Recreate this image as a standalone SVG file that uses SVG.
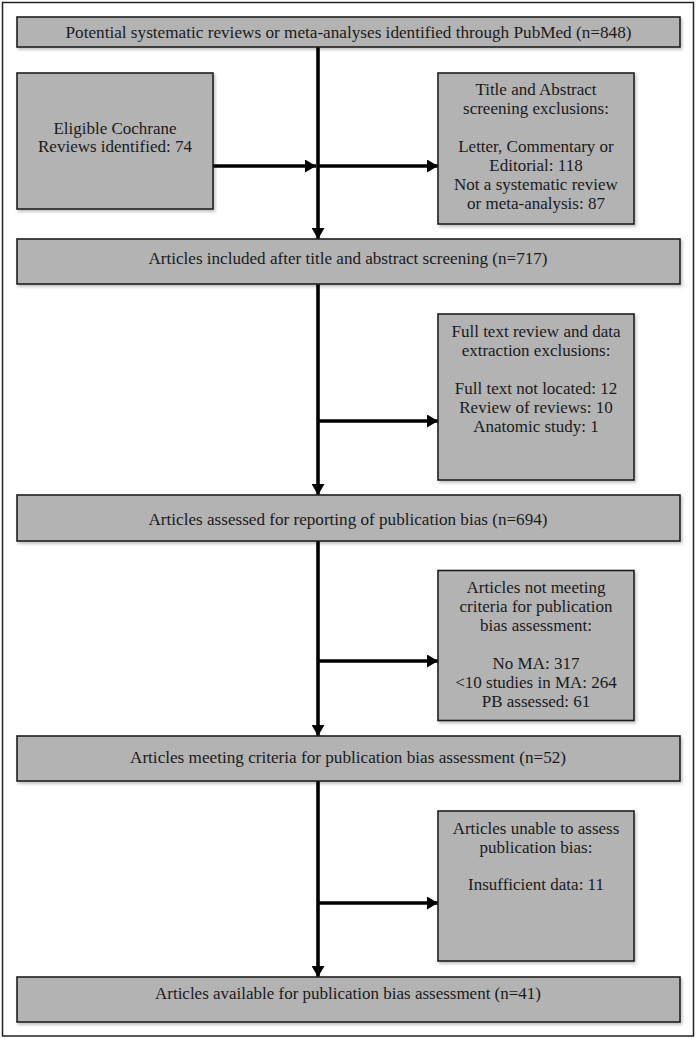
<svg xmlns="http://www.w3.org/2000/svg" width="697" height="1039" viewBox="0 0 697 1039">
<style>
.box{fill:#b3b3b3;stroke:#1e1e1e;stroke-width:1.6;filter:url(#sh)}
.t{font-family:"Liberation Serif","DejaVu Serif",serif;font-size:17px;fill:#1a1a1a;text-anchor:middle}
.w{font-size:16px}
.c{stroke:#000;stroke-width:3.6;fill:none;marker-end:url(#ah)}
</style>
<defs>
<filter id="sh" x="-5%" y="-5%" width="110%" height="120%">
<feDropShadow dx="1.5" dy="2" stdDeviation="1.5" flood-color="#000" flood-opacity="0.25"/>
</filter>
<marker id="ah" markerUnits="userSpaceOnUse" markerWidth="11" markerHeight="13" refX="11" refY="6.5" orient="auto">
<path d="M0,0 L11,6.5 L0,13 z" fill="#000"/>
</marker>
</defs>
<rect x="0" y="0" width="697" height="1039" fill="#fff"/>
<rect x="2.5" y="2.5" width="691" height="1033.5" fill="#fff" stroke="#222" stroke-width="1.5"/>

<g id="connectors">
<line class="c" x1="318" y1="47" x2="318" y2="239"/>
<line class="c" x1="213" y1="166" x2="316" y2="166"/>
<line class="c" x1="318" y1="166" x2="438" y2="166"/>
<line class="c" x1="318" y1="284" x2="318" y2="495"/>
<line class="c" x1="318" y1="421" x2="438" y2="421"/>
<line class="c" x1="318" y1="541" x2="318" y2="736"/>
<line class="c" x1="318" y1="661" x2="438" y2="661"/>
<line class="c" x1="318" y1="781" x2="318" y2="977"/>
<line class="c" x1="318" y1="903" x2="438" y2="903"/>
</g>

<g id="n1">
<rect class="box" x="17" y="17" width="663" height="30"/>
<text class="t w" x="348.5" y="38" textLength="566" lengthAdjust="spacingAndGlyphs">Potential systematic reviews or meta-analyses identified through PubMed (n=848)</text>
</g>
<g id="n2">
<rect class="box" x="17" y="73" width="196" height="136"/>
<text class="t" x="115" y="133.5">Eligible Cochrane</text>
<text class="t" x="115" y="152">Reviews identified: 74</text>
</g>
<g id="n3">
<rect class="box" x="438" y="73" width="196" height="151"/>
<text class="t" x="536" y="95">Title and Abstract</text>
<text class="t" x="536" y="114">screening exclusions:</text>
<text class="t" x="536" y="152">Letter, Commentary or</text>
<text class="t" x="536" y="171">Editorial: 118</text>
<text class="t" x="536" y="190">Not a systematic review</text>
<text class="t" x="536" y="209">or meta-analysis: 87</text>
</g>
<g id="n4">
<rect class="box" x="17" y="239" width="663" height="45"/>
<text class="t w" x="348" y="263.5" textLength="399" lengthAdjust="spacingAndGlyphs">Articles included after title and abstract screening (n=717)</text>
</g>
<g id="n5">
<rect class="box" x="438" y="314" width="196" height="166"/>
<text class="t" x="536" y="337.2">Full text review and data</text>
<text class="t" x="536" y="355.5">extraction exclusions:</text>
<text class="t" x="536" y="393.8">Full text not located: 12</text>
<text class="t" x="536" y="412.5">Review of reviews: 10</text>
<text class="t" x="536" y="431.5">Anatomic study: 1</text>
</g>
<g id="n6">
<rect class="box" x="17" y="495" width="663" height="46"/>
<text class="t w" x="348" y="524.5" textLength="399" lengthAdjust="spacingAndGlyphs">Articles assessed for reporting of publication bias (n=694)</text>
</g>
<g id="n7">
<rect class="box" x="438" y="570.5" width="196" height="150"/>
<text class="t" x="536" y="593.2">Articles not meeting</text>
<text class="t" x="536" y="611.5">criteria for publication</text>
<text class="t" x="536" y="630.5">bias assessment:</text>
<text class="t" x="536" y="668.5">No MA: 317</text>
<text class="t" x="536" y="687.5">&lt;10 studies in MA: 264</text>
<text class="t" x="536" y="706.5">PB assessed: 61</text>
</g>
<g id="n8">
<rect class="box" x="17" y="736" width="663" height="45"/>
<text class="t w" x="348" y="762.5" textLength="436" lengthAdjust="spacingAndGlyphs">Articles meeting criteria for publication bias assessment (n=52)</text>
</g>
<g id="n9">
<rect class="box" x="438" y="811" width="196" height="150"/>
<text class="t" x="536" y="834">Articles unable to assess</text>
<text class="t" x="536" y="853">publication bias:</text>
<text class="t" x="536" y="890">Insufficient data: 11</text>
</g>
<g id="n10">
<rect class="box" x="17" y="977" width="663" height="45"/>
<text class="t w" x="348" y="998.5" textLength="386" lengthAdjust="spacingAndGlyphs">Articles available for publication bias assessment (n=41)</text>
</g>
</svg>
